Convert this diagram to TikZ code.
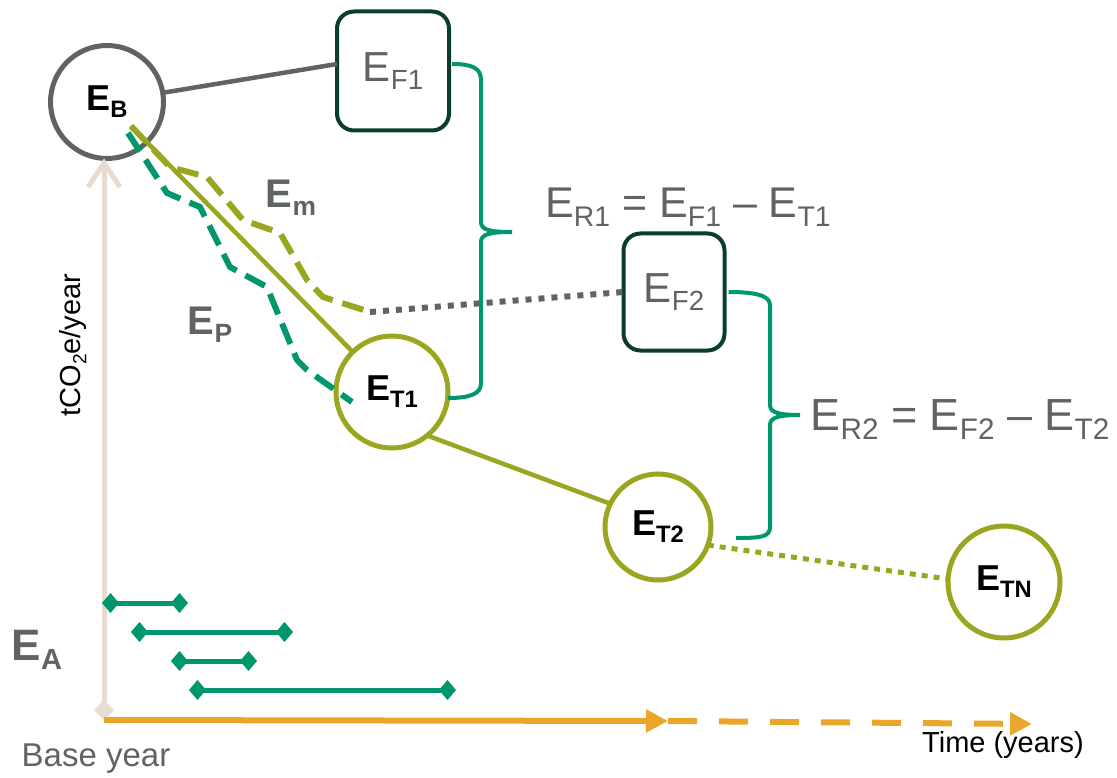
\documentclass[tikz,border=0pt]{standalone}
\usepackage{fontspec}
\usepackage{graphicx}
\setmainfont{Liberation Sans}
\usetikzlibrary{arrows.meta}
\definecolor{egray}{HTML}{5F6462}
\definecolor{edark}{HTML}{0B3D2C}
\definecolor{egreen}{HTML}{00966E}
\definecolor{eolive}{HTML}{9AA61F}
\definecolor{ebeige}{HTML}{E8DCD0}
\definecolor{eorange}{HTML}{EAA62A}
\newcommand\lsub[1]{\raisebox{-0.2em}{\scalebox{0.66}{#1}}}
\newcommand\fsz[1]{\fontsize{#1}{#1}\selectfont}
\begin{document}
\begin{tikzpicture}[x=1pt,y=-1pt]
  \tikzstyle{every node}=[inner sep=0pt,outer sep=0pt]
  \tikzstyle{basecirc}=[circle,draw=egray,line width=5pt,minimum size=113pt,font=\fsz{36}\bfseries]
  \tikzstyle{tgtcirc}=[circle,draw=eolive,line width=5pt,minimum size=112pt,font=\fsz{36}\bfseries]
  \tikzstyle{fbox}=[rectangle,rounded corners=17pt,draw=edark,line width=4pt,text=egray,font=\fsz{42}]
  \tikzstyle{lbl}=[text=egray,font=\fsz{40}\bfseries]
  \tikzstyle{eqn}=[text=egray,font=\fsz{43}]
  \tikzstyle{brace}=[draw=egreen,line width=4pt]
  \tikzstyle{span}=[egreen,line width=5pt,{Diamond[length=17pt,width=20pt]}-{Diamond[length=17pt,width=20pt]}]
  \useasboundingbox (0,0) rectangle (1117,778);
  \coordinate (O) at (104,720);
  \coordinate (xmid) at (668,721);
  \coordinate (xend) at (1032,724);
  \node[basecirc] (EB) at (107,102) {E\lsub{B}};
  \draw[ebeige,line width=5pt,{Diamond[length=20pt,width=20pt]}-{Straight Barb[length=24pt,width=32pt]}] (O) -- (O |- EB.south);
  \draw[eorange,line width=6pt,-{Triangle[length=22pt,width=22pt]}] (O) -- (xmid);
  \draw[eorange,line width=6pt,dash pattern=on 29pt off 22pt,-{Triangle[length=22pt,width=22pt]}] (xmid) -- (xend);
  \node[fbox,minimum width=112pt,minimum height=119pt] (EF1) at (393,71) {E\lsub{F1}};
  \node[fbox,minimum width=101pt,minimum height=117pt] (EF2) at (674,292) {E\lsub{F2}};
  \node[tgtcirc] (ET1) at (392,392) {E\lsub{T1}};
  \node[tgtcirc,minimum size=106pt] (ET2) at (658,527) {E\lsub{T2}};
  \node[tgtcirc] (ETN) at (1004,582) {E\lsub{TN}};
  \node[lbl] (Em) at (291,198) {E\lsub{m}};
  \node[lbl] (Ep) at (210,325) {E\lsub{P}};
  \node[lbl,font=\fsz{44}\bfseries] (Ea) at (37,650) {E\lsub{A}};
  \node[eqn] (ER1) at (688,207) {E\lsub{R1} = E\lsub{F1} \textendash{} E\lsub{T1}};
  \node[eqn,font=\fsz{45}] (ER2) at (960,420) {E\lsub{R2} = E\lsub{F2} \textendash{} E\lsub{T2}};
  \node[text=egray,font=\fsz{33}] (base) at (96,759) {Base year};
  \node[font=\fsz{29}] (time) at (1003,745) {Time (years)};
  \node[rotate=90,font=\fsz{29}] (unit) at (73,345) {tCO\lsub{2}e/year};
  \coordinate (mstart) at (131,126);
  \coordinate (pstart) at (128,133);
  \coordinate (mend) at (370,312);
  \coordinate (R1) at (512,232);
  \coordinate (R2) at (800,415);
  \coordinate (b2end) at (736,538);
  \draw[egray,line width=4.5pt] (EB) -- ([yshift=7pt]EF1.west);
  \draw[eolive,line width=4.5pt] (mstart) -- (ET1);
  \draw[eolive,line width=4.5pt] (ET1.-51) -- (ET2.154);
  \draw[eolive,line width=5pt,dash pattern=on 6pt off 6pt] (ET2.-20) -- (ETN.177);
  \draw[eolive,line width=6pt,dash pattern=on 22pt off 10pt] (mstart) -- (170,167) -- (207,177) -- (243,220) -- (280,233) -- (307,280) -- (323,297) -- (mend);
  \draw[egray,line width=6pt,dash pattern=on 6pt off 7pt] (mend) -- (EF2.west);
  \draw[egreen,line width=6pt,dash pattern=on 22pt off 10pt] (pstart) -- (167,193) -- (200,207) -- (230,267) -- (267,287) -- (297,360) -- (307,370) -- (352,402);
  \draw[brace] ([xshift=3pt,yshift=7pt]EF1.east) .. controls +(20,0) and +(0,-12) .. (481,80) -- (481,222) .. controls +(0,8) and +(-22,0) .. (R1) .. controls +(-22,0) and +(0,-8) .. (481,242) -- (481,383) .. controls +(0,11) and +(22,0) .. ([yshift=-6pt]ET1.east);
  \draw[brace] ([xshift=4pt]EF2.east) .. controls +(25,0) and +(0,-10) .. (770,305) -- (770,405) .. controls +(0,8) and +(-20,0) .. (R2) .. controls +(-20,0) and +(0,-8) .. (770,425) -- (770,527) .. controls +(0,10) and +(25,0) .. (b2end);
  \foreach \a/\b/\y in {102/188/603, 131/293/632, 171/257/661, 189/456/690}
    \draw[span] (\a,\y) -- (\b,\y);
\end{tikzpicture}
\end{document}
